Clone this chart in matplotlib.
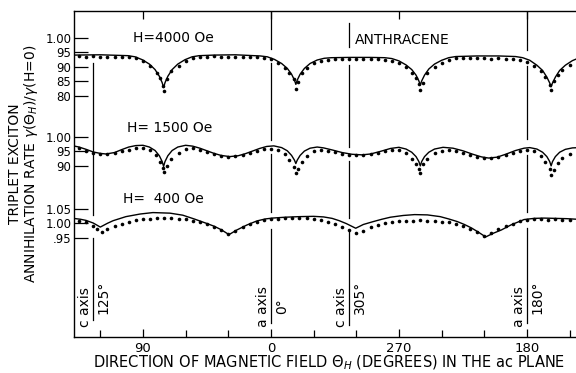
import numpy as np
import matplotlib
matplotlib.use("Agg")
import matplotlib.pyplot as plt

# x coordinate runs left to right; the scale reads 90, 0, 270, 180 degrees
tick_pos = [0, 90, 180, 270]
tick_labels = ["90", "0", "270", "180"]

# H = 4000 Oe : theory curve and measured points
x_4000_curve = [-49, -30, -10.5, -5.5, -0.5, 4.5, 8.5, 11.5, 13.5, 14.5,
                15.5, 17.5, 20.5, 24.5, 29.5, 34.5, 39.5, 50, 65, 82.5,
                87.5, 92.5, 97.5, 101.5, 104.5, 106.5, 107.5, 108.5, 110.5, 113.5,
                117.5, 122.5, 127.5, 132.5, 145, 160, 170, 175, 180, 185,
                189, 192, 194, 195, 196, 198, 201, 205, 210, 215,
                220, 235, 250, 262, 267, 272, 277, 281, 284, 286,
                287, 288, 290, 293, 297, 302, 307]
y_4000_curve = [0.941, 0.942, 0.939, 0.935, 0.925, 0.910, 0.891, 0.868, 0.846, 0.829,
                0.846, 0.868, 0.891, 0.910, 0.925, 0.935, 0.939, 0.941, 0.942, 0.938,
                0.935, 0.926, 0.912, 0.895, 0.875, 0.855, 0.840, 0.855, 0.875, 0.895,
                0.912, 0.924, 0.930, 0.932, 0.933, 0.933, 0.932, 0.929, 0.921, 0.907,
                0.891, 0.872, 0.852, 0.838, 0.852, 0.872, 0.893, 0.910, 0.923, 0.932,
                0.936, 0.938, 0.938, 0.936, 0.932, 0.923, 0.906, 0.888, 0.865, 0.845,
                0.832, 0.845, 0.865, 0.888, 0.906, 0.922, 0.932]
x_4000_pts = [-45, -40, -35, -30, -25, -20, -15, -10, -5, 0,
              5, 10, 12, 14, 15, 17, 20, 25,
              30, 35, 40, 45, 50, 55, 60, 65, 70, 75, 80, 85, 90, 95, 100,
              103, 106, 107.5, 109, 112, 115,
              120, 125, 130, 135, 140, 145, 150, 155, 160, 165, 170, 175, 180, 185,
              189, 192, 194, 195, 197,
              200, 205, 210, 215, 220, 225, 230, 235, 240, 245, 250, 255, 260, 265, 270, 275, 280,
              283, 286, 287, 289, 292, 295, 300]
y_4000_pts = [0.937, 0.935, 0.937, 0.936, 0.935, 0.936, 0.935, 0.934, 0.930, 0.922,
              0.905, 0.878, 0.862, 0.835, 0.818, 0.860, 0.885, 0.905,
              0.921, 0.930, 0.934, 0.935, 0.937, 0.935, 0.936, 0.934, 0.936, 0.935, 0.934, 0.931, 0.928, 0.915, 0.897,
              0.880, 0.860, 0.825, 0.848, 0.878, 0.898,
              0.912, 0.920, 0.925, 0.926, 0.928, 0.927, 0.926, 0.928, 0.927, 0.926, 0.925, 0.922, 0.915, 0.900,
              0.880, 0.862, 0.840, 0.822, 0.845,
              0.878, 0.900, 0.915, 0.925, 0.930, 0.932, 0.930, 0.932, 0.931, 0.929, 0.931, 0.929, 0.928, 0.925, 0.918, 0.905, 0.885,
              0.865, 0.838, 0.820, 0.850, 0.872, 0.890, 0.908]

# H = 1500 Oe
x_1500_curve = [-49, -45, -40, -35, -30, -26, -20, -15, -10, -5,
                0, 4.5, 8.5, 11.5, 13.5, 14.5, 15.5, 17.5, 20.5, 24.5,
                30, 35, 40, 45, 50, 55, 61, 67, 72, 77,
                82, 87, 92, 97.5, 101.5, 104.5, 106.5, 107.5, 108.5, 110.5,
                113.5, 117.5, 122.5, 127, 133, 140, 147, 154, 160, 167,
                174, 180, 185, 189, 192, 194, 195, 196, 198, 201,
                205, 211, 218, 225, 232, 238, 243, 249, 255, 262,
                268, 272, 277, 281, 284, 286, 287, 288, 290, 293,
                297, 302, 307]
y_1500_curve = [0.969, 0.965, 0.957, 0.948, 0.943, 0.941, 0.946, 0.956, 0.965, 0.970,
                0.971, 0.965, 0.953, 0.935, 0.915, 0.898, 0.915, 0.935, 0.953, 0.965,
                0.971, 0.968, 0.961, 0.952, 0.943, 0.936, 0.932, 0.935, 0.942, 0.951,
                0.960, 0.967, 0.969, 0.963, 0.952, 0.936, 0.920, 0.908, 0.920, 0.936,
                0.951, 0.961, 0.965, 0.962, 0.955, 0.946, 0.940, 0.938, 0.941, 0.950,
                0.960, 0.964, 0.958, 0.947, 0.932, 0.915, 0.900, 0.915, 0.932, 0.947,
                0.958, 0.964, 0.961, 0.952, 0.940, 0.931, 0.927, 0.930, 0.940, 0.953,
                0.961, 0.963, 0.958, 0.947, 0.932, 0.915, 0.900, 0.915, 0.932, 0.947,
                0.957, 0.962, 0.963]
x_1500_pts = [-45, -40, -35, -30, -25, -20, -15, -10, -5, 0,
              5, 9, 12, 14, 15, 17, 20, 25,
              30, 35, 40, 45, 50, 55, 60, 65, 70, 75, 80, 85, 90, 95, 100,
              103, 106, 107.5, 109, 112, 115,
              120, 125, 130, 135, 140, 145, 150, 155, 160, 165, 170, 175, 180, 185,
              189, 192, 194, 195, 197,
              200, 205, 210, 215, 220, 225, 230, 235, 240, 245, 250, 255, 260, 265, 270, 275, 280,
              283, 286, 287, 289, 292, 295, 300]
y_1500_pts = [0.960, 0.952, 0.945, 0.941, 0.940, 0.943, 0.950, 0.956, 0.961, 0.962,
              0.954, 0.938, 0.915, 0.892, 0.878, 0.900, 0.925, 0.945,
              0.957, 0.960, 0.955, 0.948, 0.941, 0.935, 0.932, 0.933, 0.938, 0.945, 0.952, 0.958, 0.959, 0.955, 0.940,
              0.920, 0.897, 0.877, 0.890, 0.915, 0.935,
              0.950, 0.955, 0.952, 0.947, 0.942, 0.939, 0.937, 0.937, 0.940, 0.946, 0.952, 0.956, 0.955, 0.945,
              0.925, 0.905, 0.890, 0.877, 0.905,
              0.925, 0.944, 0.953, 0.955, 0.952, 0.946, 0.938, 0.932, 0.928, 0.927, 0.930, 0.937, 0.945, 0.952, 0.954, 0.950, 0.935,
              0.915, 0.890, 0.868, 0.885, 0.910, 0.928, 0.942]

# H = 400 Oe
x_400_curve = [-49, -44, -40, -35, -30, -25, -21, -12, -2, 7,
               19, 28, 36, 44, 50, 55, 60.5, 66, 73, 80,
               86, 91, 100, 110, 120, 127, 133, 138, 143, 149.6,
               155, 162, 168, 174, 183, 191, 200, 209, 215, 221,
               226, 231, 236, 241, 246, 252, 259, 264, 268, 275,
               282, 290, 298, 305]
y_400_curve = [1.016, 1.013, 1.009, 1.000, 0.986, 0.999, 1.008, 1.022, 1.031, 1.036,
               1.034, 1.027, 1.014, 1.000, 0.989, 0.977, 0.960, 0.976, 0.993, 1.007,
               1.014, 1.017, 1.020, 1.022, 1.023, 1.021, 1.016, 1.008, 0.998, 0.982,
               0.995, 1.005, 1.013, 1.020, 1.026, 1.029, 1.028, 1.022, 1.014, 1.005,
               0.995, 0.983, 0.968, 0.952, 0.964, 0.976, 0.994, 1.004, 1.012, 1.016,
               1.017, 1.016, 1.015, 1.013]
x_400_pts = [-45, -40, -35, -32, -29, -25, -20, -15, -10, -5,
             0, 5, 10, 15, 20, 25, 30, 35, 40, 45,
             50, 55, 60, 65, 70, 75, 80, 85, 90, 95,
             100, 105, 110, 115, 120, 125, 130, 135, 140, 145,
             150, 155, 160, 165, 170, 175, 180, 185, 190, 195,
             200, 205, 210, 215, 220, 225, 230, 235, 240, 245,
             250, 255, 260, 265, 270, 275, 280, 285, 290, 295, 300]
y_400_pts = [1.006, 1.002, 0.990, 0.978, 0.970, 0.978, 0.990, 0.998, 1.005, 1.010,
             1.013, 1.015, 1.016, 1.017, 1.016, 1.015, 1.013, 1.008, 1.002, 0.995,
             0.985, 0.975, 0.962, 0.972, 0.985, 0.996, 1.004, 1.010, 1.013, 1.015,
             1.016, 1.017, 1.016, 1.017, 1.015, 1.010, 1.004, 0.995, 0.985, 0.975,
             0.966, 0.972, 0.985, 0.994, 1.000, 1.004, 1.006, 1.008, 1.008, 1.009,
             1.008, 1.007, 1.005, 1.002, 0.998, 0.990, 0.980, 0.968, 0.956, 0.965,
             0.978, 0.990, 0.998, 1.006, 1.010, 1.013, 1.014, 1.012, 1.013, 1.012, 1.011]

# crystal axis markers: position, name, angle label
axis_pos = [-35, 90, 145, 270]
axis_names = ["c axis", "a axis", "c axis", "a axis"]
axis_angles = ["125°", "0°", "305°", "180°"]

# vertical offsets stacking the three field strengths
offsets = {"4000": 0.0, "1500": 0.341, "400": 0.638}


def plot_data():
    fig = plt.figure(figsize=(5.76, 3.73), dpi=100)
    ax = fig.add_axes([74 / 576, 1 - 337 / 373, 1 - 74 / 576, (337 - 11) / 373])

    groups = [
        (x_4000_curve, y_4000_curve, x_4000_pts, y_4000_pts, offsets["4000"]),
        (x_1500_curve, y_1500_curve, x_1500_pts, y_1500_pts, offsets["1500"]),
        (x_400_curve, y_400_curve, x_400_pts, y_400_pts, offsets["400"]),
    ]
    for xc, yc, xp, yp, off in groups:
        ax.plot(xc, np.array(yc) - off, color="black", lw=1.0, zorder=3)
        ax.plot(xp, np.array(yp) - off, "o", color="black", ms=2.6, mew=0, zorder=4)

    # vertical axis lines, broken where they cross the curves
    segments = {
        -35: [(0.027, 0.31), (0.39, 0.914)],
        90: [(0.017, 0.34), (0.40, 0.60), (0.648, 0.914), (0.962, 1.093)],
        145: [(0.010, 0.33), (0.38, 0.575), (0.625, 0.907), (0.969, 1.052)],
        270: [(0.017, 0.345), (0.40, 0.595), (0.65, 0.905), (0.96, 1.093)],
    }
    for xv, segs in segments.items():
        for y0, y1 in segs:
            ax.plot([xv, xv], [y0, y1], color="black", lw=0.9, zorder=2)

    for xv, name, ang in zip(axis_pos, axis_names, axis_angles):
        ax.text(xv - 5.5, 0.005, name, rotation=90, ha="center", va="bottom", fontsize=10)
        ax.text(xv + 7.5, 0.048, ang, rotation=90, ha="center", va="bottom", fontsize=10)

    ax.text(-7, 1.0, "H=4000 Oe", fontsize=10, va="center", ha="left")
    ax.text(149, 0.993, "ANTHRACENE", fontsize=10, va="center", ha="left")
    ax.text(-11, 0.689, "H= 1500 Oe", fontsize=10, va="center", ha="left")
    ax.text(-14, 0.445, "H=  400 Oe", fontsize=10, va="center", ha="left")

    ax.set_xlim(-48.5, 304.5)
    ax.set_ylim(-0.031, 1.093)

    ax.set_xticks(tick_pos)
    ax.set_xticklabels(tick_labels, fontsize=9.5)
    ax.set_xticks([-30, 30, 60, 120, 150, 210, 240, 300], minor=True)
    ax.tick_params(axis="x", which="major", direction="in", length=6, width=0.9, pad=3.5,
                   top=True)
    ax.tick_params(axis="x", which="minor", direction="in", length=5, width=0.9)

    ytick_pos = [1.00, 0.95, 0.90, 0.85, 0.80,
                 1.00 - offsets["1500"], 0.95 - offsets["1500"], 0.90 - offsets["1500"],
                 1.05 - offsets["400"], 1.00 - offsets["400"], 0.95 - offsets["400"]]
    ytick_labels = ["1.00", "95", "90", "85", "80", "1.00", "95", "90", "1.05", "1.00", ".95"]
    ax.set_yticks(ytick_pos)
    ax.set_yticklabels(ytick_labels, fontsize=8.5)
    ax.tick_params(axis="y", direction="in", length=10, width=0.9, pad=2)

    ax.spines["right"].set_visible(False)
    for s in ["left", "bottom", "top"]:
        ax.spines[s].set_linewidth(1.0)

    fig.text(329 / 576, 1 - 363 / 373,
             r"DIRECTION OF MAGNETIC FIELD $\Theta_H$ (DEGREES) IN THE ac PLANE",
             ha="center", va="center", fontsize=10.5)
    fig.text(15 / 576, 1 - 164 / 373, "TRIPLET EXCITON", rotation=90,
             ha="center", va="center", fontsize=10)
    fig.text(31 / 576, 1 - 164 / 373,
             r"ANNIHILATION RATE $\gamma$($\Theta_H$)/$\gamma$(H=0)", rotation=90,
             ha="center", va="center", fontsize=10)

    fig.savefig("out.png", dpi=100)


if __name__ == "__main__":
    plot_data()
